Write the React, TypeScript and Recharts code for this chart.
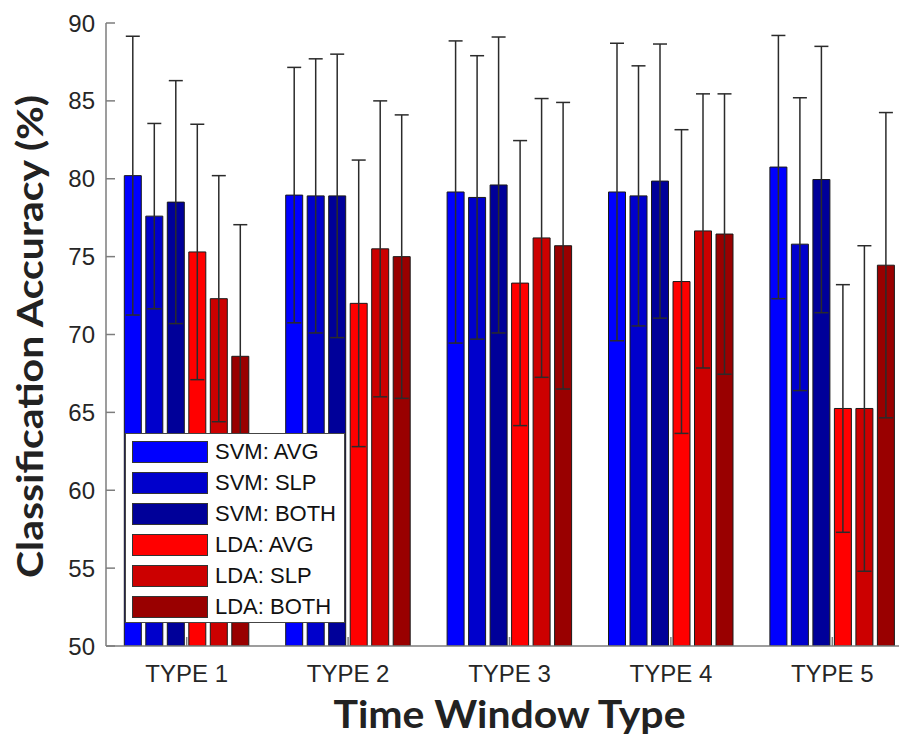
import { BarChart, Bar, XAxis, YAxis, ErrorBar, Legend } from 'recharts';

const categories = ['TYPE 1', 'TYPE 2', 'TYPE 3', 'TYPE 4', 'TYPE 5'];
const yTicks = [50, 55, 60, 65, 70, 75, 80, 85, 90];

const seriesNames = ['SVM: AVG', 'SVM: SLP', 'SVM: BOTH', 'LDA: AVG', 'LDA: SLP', 'LDA: BOTH'];
const seriesColors = ['#0000ff', '#0000cc', '#000099', '#ff0000', '#cc0000', '#990000'];

// mean accuracy per time window type
const svmAvg = [80.2, 78.95, 79.15, 79.15, 80.75];
const svmSlp = [77.6, 78.9, 78.8, 78.9, 75.8];
const svmBoth = [78.5, 78.9, 79.6, 79.85, 79.95];
const ldaAvg = [75.3, 72.0, 73.3, 73.4, 65.25];
const ldaSlp = [72.3, 75.5, 76.2, 76.65, 65.25];
const ldaBoth = [68.6, 75.0, 75.7, 76.45, 74.45];

// std deviation (error bars)
const svmAvgErr = [8.95, 8.2, 9.7, 9.55, 8.45];
const svmSlpErr = [5.95, 8.8, 9.1, 8.35, 9.4];
const svmBothErr = [7.8, 9.1, 9.5, 8.8, 8.55];
const ldaAvgErr = [8.2, 9.2, 9.15, 9.75, 7.95];
const ldaSlpErr = [7.9, 9.5, 8.95, 8.8, 10.45];
const ldaBothErr = [8.45, 9.1, 9.2, 9.0, 9.8];

const seriesValues = [svmAvg, svmSlp, svmBoth, ldaAvg, ldaSlp, ldaBoth];
const seriesErrors = [svmAvgErr, svmSlpErr, svmBothErr, ldaAvgErr, ldaSlpErr, ldaBothErr];

const data = categories.map((name, i) => {
  const row: Record<string, any> = { name };
  seriesValues.forEach((vals, s) => {
    row['s' + s] = vals[i];
    row['e' + s] = seriesErrors[s][i];
  });
  return row;
});

const axisColor = '#7d7d7d';
const tickFont = '"Liberation Sans", Arial, sans-serif';
const titleFont = 'Lato, "Open Sans", sans-serif';

const YTick = ({ x, y, payload }: any) => (
  <g>
    <text x={x} y={y} dy={8.5} textAnchor="end" fontFamily={tickFont} fontSize={24} fill="#262626">
      {payload.value}
    </text>
    <line x1={x + 11} x2={x + 20} y1={y} y2={y} stroke={axisColor} strokeWidth={1.5} />
  </g>
);

const XTick = ({ x, y, payload }: any) => (
  <g>
    <text x={x} y={y + 36} textAnchor="middle" fontFamily={tickFont} fontSize={24} fill="#262626">
      {payload.value}
    </text>
    <line x1={x} x2={x} y1={y} y2={y - 9} stroke={axisColor} strokeWidth={1.5} />
  </g>
);

const TopTick = ({ x, y }: any) => (
  <line x1={x} x2={x} y1={y} y2={y + 9} stroke={axisColor} strokeWidth={1.5} />
);

const XTitle = ({ viewBox }: any) => (
  <text
    x={viewBox.x + viewBox.width / 2}
    y={viewBox.y + 82}
    textAnchor="middle"
    fontFamily={titleFont}
    fontWeight="bold"
    fontSize={38}
    fill="#222"
    textLength={352}
    lengthAdjust="spacingAndGlyphs"
  >
    Time Window Type
  </text>
);

const YTitle = ({ viewBox }: any) => {
  const cx = viewBox.x + 43;
  const cy = viewBox.y + viewBox.height / 2 + 2;
  return (
    <text
      x={cx}
      y={cy}
      transform={`rotate(-90 ${cx} ${cy})`}
      textAnchor="middle"
      fontFamily={titleFont}
      fontWeight="bold"
      fontSize={37}
      fill="#222"
      textLength={483}
      lengthAdjust="spacingAndGlyphs"
    >
      Classification Accuracy (%)
    </text>
  );
};

// keep the legend in series order, not alphabetical
const renderLegend = ({ payload }: any) => {
  const items = [...(payload || [])].sort(
    (a: any, b: any) => seriesNames.indexOf(a.value) - seriesNames.indexOf(b.value)
  );
  return (
    <div
      style={{
        background: '#fff',
        border: '1.5px solid #444',
        boxSizing: 'border-box',
        width: 220,
        height: 190,
        paddingTop: 2,
        paddingLeft: 6,
      }}
    >
      {items.map((entry: any) => (
        <div key={entry.value} style={{ display: 'flex', alignItems: 'center', height: 31 }}>
          <div
            style={{
              width: 76,
              height: 22,
              background: entry.color,
              border: '1px solid #333',
              boxSizing: 'border-box',
            }}
          />
          <span style={{ marginLeft: 7, fontFamily: tickFont, fontSize: 22, color: '#111', lineHeight: '22px' }}>
            {entry.value}
          </span>
        </div>
      ))}
    </div>
  );
};

export default function App() {
  return (
    <div style={{ position: 'fixed', left: 0, top: 0, width: 899, height: 736, overflow: 'hidden', background: '#fff' }}>
      <BarChart
        width={913}
        height={736}
        data={data}
        margin={{ top: 23, right: 0, left: 0, bottom: 0 }}
        barCategoryGap={18.3}
        barGap={4.5}
      >
        <XAxis
          dataKey="name"
          height={90}
          interval={0}
          tickSize={0}
          tickMargin={0}
          tickLine={false}
          axisLine={{ stroke: axisColor, strokeWidth: 1.5 }}
          tick={<XTick />}
          label={<XTitle />}
        />
        <XAxis
          xAxisId="top"
          dataKey="name"
          orientation="top"
          height={0}
          interval={0}
          tickSize={0}
          tickMargin={0}
          tickLine={false}
          axisLine={{ stroke: axisColor, strokeWidth: 1.5 }}
          tick={<TopTick />}
        />
        <YAxis
          type="number"
          domain={[50, 90]}
          ticks={yTicks}
          allowDataOverflow
          width={106}
          tickSize={0}
          tickMargin={11}
          tickLine={false}
          axisLine={{ stroke: axisColor, strokeWidth: 1.5 }}
          tick={<YTick />}
          label={<YTitle />}
        />
        <Legend
          layout="vertical"
          align="center"
          verticalAlign="middle"
          content={renderLegend}
          wrapperStyle={{ position: 'absolute', left: 125, top: 433, width: 220, height: 190 }}
        />
        {seriesNames.map((n, s) => (
          <Bar
            key={n}
            dataKey={'s' + s}
            name={n}
            fill={seriesColors[s]}
            stroke="#1a1a1a"
            strokeWidth={1}
            isAnimationActive={false}
          >
            <ErrorBar dataKey={'e' + s} width={7} stroke="#2b2b2b" strokeWidth={1.5} direction="y" />
          </Bar>
        ))}
      </BarChart>
    </div>
  );
}
